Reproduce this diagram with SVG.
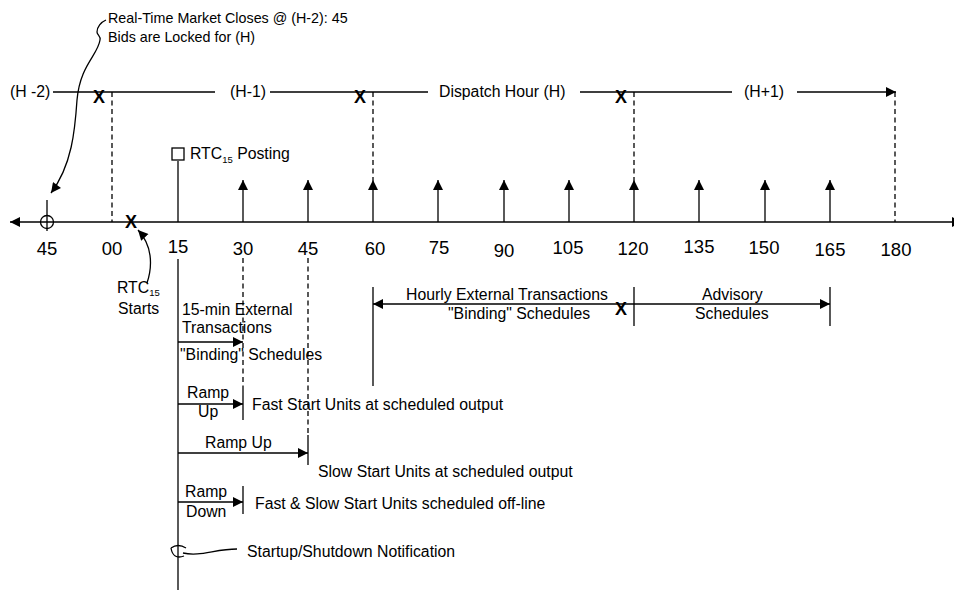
<svg xmlns="http://www.w3.org/2000/svg" width="954" height="590" viewBox="0 0 954 590">
<style>
text{font-family:"Liberation Sans",Arial,sans-serif;fill:#000}
.t{font-size:15.8px}
.h{font-size:14.3px}
.n{font-size:18.5px;text-anchor:middle}
.x{font-size:18px;font-weight:bold;text-anchor:middle}
.s{stroke:#000;stroke-width:1.3;fill:none}
.d{stroke:#000;stroke-width:1.3;fill:none;stroke-dasharray:5 3.5}
.a{marker-end:url(#ah)}
.b{marker-start:url(#ahr);marker-end:url(#ah)}
</style>
<defs>
<marker id="ah" viewBox="0 0 10 10" refX="10" refY="5" markerWidth="11" markerHeight="10" markerUnits="userSpaceOnUse" orient="auto"><path d="M0,0L10,5L0,10z" fill="#000"/></marker>
<marker id="ahr" viewBox="0 0 10 10" refX="10" refY="5" markerWidth="11" markerHeight="10" markerUnits="userSpaceOnUse" orient="auto-start-reverse"><path d="M0,0L10,5L0,10z" fill="#000"/></marker>
</defs>
<rect width="954" height="590" fill="#fff"/>
<g id="connectors">
<path class="s b" d="M10,222H962" stroke-width="1.5"/>
<path class="s" d="M53,92H215M270,92H428M580,92H732"/>
<path class="s a" d="M797,92H896"/>
<path class="d" d="M112,92V222M373,92V180M634,92V180M895,92V222M243,258V390M308,258V435"/>
<path class="s a" d="M243,222V180"/>
<path class="s a" d="M308,222V180"/>
<path class="s a" d="M373,222V180"/>
<path class="s a" d="M438,222V180"/>
<path class="s a" d="M504,222V180"/>
<path class="s a" d="M569,222V180"/>
<path class="s a" d="M634,222V180"/>
<path class="s a" d="M699,222V180"/>
<path class="s a" d="M765,222V180"/>
<path class="s a" d="M830,222V180"/>
<path class="s" d="M178,222V161"/>
<rect class="s" x="172" y="148" width="12" height="12"/>
<path class="s" d="M47,200V231"/>
<circle class="s" cx="47" cy="222" r="6.5"/>
<path class="s" d="M178,259V590"/>
<path class="s a" d="M178,342H243"/>
<path class="s a" d="M178,404H243"/>
<path class="s" d="M243,390V420"/>
<path class="s a" d="M178,453H308"/>
<path class="s" d="M308,435V465"/>
<path class="s a" d="M178,502H243"/>
<path class="s" d="M243,486V514"/>
<path class="s" d="M373,287V386M634,287V326M830,287V326"/>
<path class="s b" d="M373,304H830"/>
<path class="s a" d="M106,20C101,22 97,27 97,32C97,35 101,36 100,40C98,55 80,65 77,100C75,130 72,165 51,193"/>
<path class="s a" d="M147,283C153,265 152,245 138,230"/>
<path class="s" d="M171,548Q178,543 186,548M171,548Q173,560 184,556M183,553C200,557 215,549 237,549"/>
</g>
<g id="node-rtm-close"><text class="h" x="108" y="23">Real-Time Market Closes @ (H-2): 45</text><text class="h" x="108" y="42">Bids are Locked for (H)</text></g>
<g id="node-hour-labels">
<text class="t" x="10" y="97">(H -2)</text>
<text class="t" x="230" y="97">(H-1)</text>
<text class="t" x="439" y="97">Dispatch Hour (H)</text>
<text class="t" x="744" y="97">(H+1)</text>
</g>
<g id="node-x-marks">
<text class="x" x="99" y="103">X</text>
<text class="x" x="360" y="103">X</text>
<text class="x" x="621" y="103">X</text>
<text class="x" x="131" y="228">X</text>
<text class="x" x="621" y="315">X</text>
</g>
<g id="node-rtc-posting"><text class="t" x="190" y="159" font-size="14.5">RTC<tspan font-size="9.5" dy="4">15</tspan><tspan dy="-4"> Posting</tspan></text></g>
<g id="node-axis-labels">
<text class="n" x="47" y="255">45</text>
<text class="n" x="112" y="255">00</text>
<text class="n" x="178" y="253">15</text>
<text class="n" x="243" y="255">30</text>
<text class="n" x="308" y="255">45</text>
<text class="n" x="375" y="255">60</text>
<text class="n" x="439" y="254">75</text>
<text class="n" x="504" y="257">90</text>
<text class="n" x="568" y="254">105</text>
<text class="n" x="633" y="255">120</text>
<text class="n" x="699" y="253">135</text>
<text class="n" x="764" y="254">150</text>
<text class="n" x="830" y="256">165</text>
<text class="n" x="896" y="256">180</text>
</g>
<g id="node-rtc-starts"><text class="t" x="117" y="293">RTC<tspan font-size="9.5" dy="3">15</tspan></text><text class="t" x="118" y="314">Starts</text></g>
<g id="node-15min"><text class="t" x="182" y="315">15-min External</text><text class="t" x="182" y="333">Transactions</text><text class="t" x="180" y="360">"Binding" Schedules</text></g>
<g id="node-hourly"><text class="t" x="406" y="300">Hourly External Transactions</text><text class="t" x="448" y="319">"Binding" Schedules</text></g>
<g id="node-advisory"><text class="t" x="702" y="300">Advisory</text><text class="t" x="695" y="319">Schedules</text></g>
<g id="node-fast-start"><text class="t" x="187" y="398">Ramp</text><text class="t" x="198" y="417">Up</text><text class="t" x="252" y="410">Fast Start Units at scheduled output</text></g>
<g id="node-slow-start"><text class="t" x="205" y="448">Ramp Up</text><text class="t" x="318" y="477">Slow Start Units at scheduled output</text></g>
<g id="node-offline"><text class="t" x="185" y="497">Ramp</text><text class="t" x="186" y="517">Down</text><text class="t" x="255" y="509">Fast &amp; Slow Start Units scheduled off-line</text></g>
<g id="node-notification"><text class="t" x="247" y="557">Startup/Shutdown Notification</text></g>
</svg>
